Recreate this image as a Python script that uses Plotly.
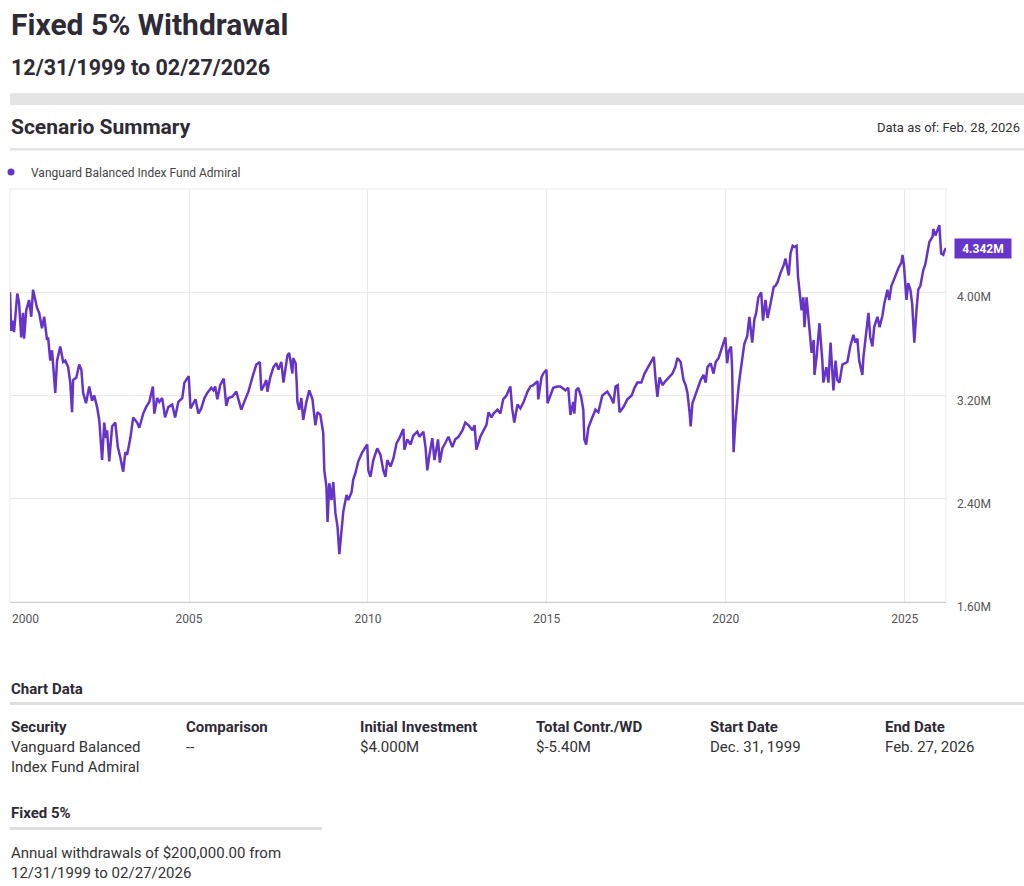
import datetime as dt
import plotly.graph_objects as go

# ---------------- data ----------------
series_name = "Vanguard Balanced Index Fund Admiral"

years = [
    1999.997, 2000.03, 2000.08, 2000.11, 2000.20, 2000.25, 2000.31, 2000.36, 2000.39, 2000.45,
    2000.53, 2000.59, 2000.64, 2000.75, 2000.81, 2000.89, 2000.95, 2001.03, 2001.06, 2001.12,
    2001.17, 2001.26, 2001.31, 2001.40, 2001.48, 2001.54, 2001.62, 2001.68, 2001.73, 2001.76,
    2001.85, 2001.93, 2001.99, 2002.04, 2002.12, 2002.21, 2002.29, 2002.35, 2002.43, 2002.49,
    2002.57, 2002.63, 2002.68, 2002.71, 2002.77, 2002.85, 2002.94, 2003.01, 2003.08, 2003.16,
    2003.22, 2003.27, 2003.36, 2003.44, 2003.55, 2003.61, 2003.72, 2003.80, 2003.89, 2003.99,
    2004.03, 2004.11, 2004.17, 2004.25, 2004.33, 2004.42, 2004.53, 2004.61, 2004.70, 2004.81,
    2004.87, 2004.95, 2004.99, 2005.04, 2005.12, 2005.18, 2005.26, 2005.34, 2005.43, 2005.51,
    2005.62, 2005.68, 2005.73, 2005.79, 2005.87, 2005.97, 2006.04, 2006.10, 2006.21, 2006.32,
    2006.38, 2006.46, 2006.57, 2006.66, 2006.77, 2006.88, 2006.98, 2007.02, 2007.08, 2007.16,
    2007.19, 2007.27, 2007.36, 2007.44, 2007.50, 2007.58, 2007.64, 2007.69, 2007.75, 2007.80,
    2007.89, 2007.91, 2007.98, 2008.01, 2008.03, 2008.08, 2008.14, 2008.19, 2008.28, 2008.36,
    2008.45, 2008.53, 2008.59, 2008.67, 2008.75, 2008.78, 2008.84, 2008.87, 2008.92, 2008.98,
    2009.03, 2009.09, 2009.15, 2009.20, 2009.26, 2009.31, 2009.40, 2009.45, 2009.54, 2009.59,
    2009.65, 2009.73, 2009.84, 2009.90, 2009.98, 2010.01, 2010.07, 2010.15, 2010.26, 2010.35,
    2010.43, 2010.49, 2010.54, 2010.63, 2010.71, 2010.80, 2010.88, 2010.99, 2011.02, 2011.10,
    2011.19, 2011.27, 2011.38, 2011.44, 2011.55, 2011.61, 2011.66, 2011.72, 2011.80, 2011.86,
    2011.96, 2012.01, 2012.08, 2012.16, 2012.25, 2012.36, 2012.44, 2012.53, 2012.64, 2012.72,
    2012.81, 2012.92, 2012.98, 2013.03, 2013.14, 2013.23, 2013.31, 2013.37, 2013.45, 2013.51,
    2013.62, 2013.70, 2013.78, 2013.87, 2013.98, 2014.03, 2014.09, 2014.18, 2014.26, 2014.35,
    2014.46, 2014.54, 2014.62, 2014.74, 2014.76, 2014.85, 2014.90, 2014.99, 2015.02, 2015.10,
    2015.18, 2015.29, 2015.38, 2015.52, 2015.60, 2015.66, 2015.74, 2015.77, 2015.82, 2015.88,
    2015.96, 2016.02, 2016.05, 2016.10, 2016.16, 2016.27, 2016.36, 2016.44, 2016.55, 2016.69,
    2016.78, 2016.86, 2016.92, 2016.98, 2017.03, 2017.14, 2017.25, 2017.37, 2017.45, 2017.53,
    2017.64, 2017.73, 2017.81, 2017.90, 2017.99, 2018.04, 2018.09, 2018.15, 2018.23, 2018.31,
    2018.40, 2018.51, 2018.59, 2018.65, 2018.74, 2018.82, 2018.88, 2018.93, 2018.99, 2019.02,
    2019.07, 2019.13, 2019.21, 2019.30, 2019.38, 2019.44, 2019.49, 2019.58, 2019.66, 2019.72,
    2019.80, 2019.88, 2019.94, 2019.99, 2020.04, 2020.08, 2020.15, 2020.18, 2020.20, 2020.22,
    2020.27, 2020.33, 2020.36, 2020.41, 2020.47, 2020.52, 2020.60, 2020.66, 2020.74, 2020.80,
    2020.85, 2020.91, 2020.99, 2021.04, 2021.11, 2021.17, 2021.25, 2021.34, 2021.39, 2021.45,
    2021.53, 2021.62, 2021.67, 2021.76, 2021.81, 2021.87, 2021.92, 2021.98, 2022.02, 2022.06,
    2022.12, 2022.17, 2022.20, 2022.26, 2022.31, 2022.40, 2022.46, 2022.48, 2022.54, 2022.59,
    2022.62, 2022.70, 2022.73, 2022.81, 2022.87, 2022.93, 2022.97, 2023.01, 2023.07, 2023.12,
    2023.18, 2023.26, 2023.34, 2023.40, 2023.48, 2023.57, 2023.62, 2023.68, 2023.73, 2023.82,
    2023.85, 2023.90, 2023.96, 2023.99, 2024.04, 2024.10, 2024.15, 2024.24, 2024.30, 2024.38,
    2024.43, 2024.52, 2024.57, 2024.63, 2024.69, 2024.77, 2024.83, 2024.91, 2024.94, 2024.98,
    2025.02, 2025.05, 2025.10, 2025.16, 2025.21, 2025.24, 2025.27, 2025.33, 2025.38, 2025.44,
    2025.52, 2025.58, 2025.63, 2025.69, 2025.78, 2025.80, 2025.86, 2025.92, 2025.97, 2026.02,
    2026.08, 2026.11, 2026.156,
]

values_m = [
    4.00, 3.70, 3.78, 3.69, 3.99, 3.92, 3.65, 3.84, 3.64, 3.86,
    3.94, 3.81, 4.02, 3.88, 3.84, 3.72, 3.81, 3.63, 3.65, 3.47,
    3.55, 3.22, 3.47, 3.58, 3.46, 3.47, 3.42, 3.30, 3.07, 3.32,
    3.34, 3.44, 3.40, 3.22, 3.14, 3.27, 3.16, 3.20, 3.11, 3.01,
    2.70, 2.99, 2.87, 2.93, 2.69, 2.96, 2.99, 2.80, 2.72, 2.61,
    2.76, 2.74, 2.87, 3.03, 2.99, 2.95, 3.06, 3.11, 3.15, 3.27,
    3.06, 3.18, 3.15, 3.18, 3.03, 3.11, 3.13, 3.03, 3.15, 3.18,
    3.30, 3.34, 3.35, 3.10, 3.14, 3.17, 3.06, 3.10, 3.18, 3.22,
    3.26, 3.24, 3.27, 3.17, 3.28, 3.33, 3.12, 3.18, 3.19, 3.23,
    3.17, 3.09, 3.17, 3.23, 3.34, 3.44, 3.46, 3.24, 3.27, 3.32,
    3.23, 3.34, 3.42, 3.45, 3.40, 3.46, 3.30, 3.40, 3.51, 3.53,
    3.37, 3.49, 3.45, 3.30, 3.15, 3.09, 3.18, 3.01, 3.15, 3.24,
    3.17, 2.97, 3.07, 3.05, 2.91, 2.62, 2.49, 2.22, 2.52, 2.39,
    2.53, 2.29, 2.18, 1.97, 2.18, 2.30, 2.43, 2.39, 2.45, 2.55,
    2.60, 2.69, 2.76, 2.79, 2.82, 2.62, 2.57, 2.70, 2.79, 2.74,
    2.62, 2.57, 2.70, 2.65, 2.71, 2.83, 2.87, 2.94, 2.78, 2.86,
    2.82, 2.89, 2.92, 2.88, 2.92, 2.80, 2.62, 2.74, 2.87, 2.70,
    2.86, 2.68, 2.79, 2.83, 2.88, 2.80, 2.86, 2.88, 2.93, 2.99,
    2.97, 2.93, 2.97, 2.78, 2.88, 2.93, 2.97, 3.07, 3.03, 3.06,
    3.09, 3.06, 3.17, 3.20, 3.27, 3.10, 2.99, 3.13, 3.10, 3.15,
    3.23, 3.27, 3.28, 3.31, 3.17, 3.34, 3.37, 3.40, 3.14, 3.20,
    3.26, 3.27, 3.27, 3.24, 3.26, 3.05, 3.15, 3.06, 3.24, 3.26,
    3.19, 3.09, 2.86, 2.82, 2.95, 3.03, 3.09, 3.07, 3.20, 3.23,
    3.19, 3.14, 3.27, 3.28, 3.07, 3.11, 3.17, 3.20, 3.26, 3.30,
    3.30, 3.37, 3.41, 3.45, 3.50, 3.32, 3.19, 3.34, 3.28, 3.31,
    3.34, 3.37, 3.42, 3.49, 3.46, 3.32, 3.28, 3.22, 3.07, 2.96,
    3.14, 3.19, 3.24, 3.32, 3.36, 3.30, 3.42, 3.45, 3.37, 3.46,
    3.49, 3.57, 3.61, 3.65, 3.45, 3.54, 3.58, 3.40, 3.03, 2.76,
    2.99, 3.19, 3.27, 3.38, 3.50, 3.60, 3.66, 3.81, 3.61, 3.79,
    3.84, 3.96, 4.00, 3.78, 3.94, 3.80, 3.91, 4.04, 4.05, 4.08,
    4.15, 4.21, 4.26, 4.13, 4.30, 4.36, 4.35, 4.36, 4.12, 4.02,
    3.86, 3.96, 3.73, 3.96, 3.78, 3.53, 3.63, 3.36, 3.50, 3.68,
    3.76, 3.47, 3.30, 3.42, 3.30, 3.61, 3.42, 3.24, 3.47, 3.32,
    3.30, 3.44, 3.45, 3.46, 3.58, 3.67, 3.61, 3.64, 3.47, 3.36,
    3.50, 3.61, 3.78, 3.84, 3.65, 3.58, 3.73, 3.81, 3.73, 3.82,
    3.91, 4.02, 3.94, 4.05, 4.09, 4.15, 4.19, 4.23, 4.29, 4.21,
    4.07, 3.94, 4.07, 4.02, 3.91, 3.78, 3.61, 3.86, 4.02, 4.05,
    4.17, 4.22, 4.30, 4.39, 4.43, 4.49, 4.44, 4.48, 4.52, 4.30,
    4.29, 4.32, 4.342,
]

y_tick_vals = [1.6, 2.4, 3.2, 4.0]
y_tick_text = ["1.60M", "2.40M", "3.20M", "4.00M"]
x_tick_years = [2000, 2005, 2010, 2015, 2020, 2025]
x_tick_text = ["2000", "2005", "2010", "2015", "2020", "2025"]

table_headers = ["Security", "Comparison", "Initial Investment", "Total Contr./WD", "Start Date", "End Date"]
table_values = ["Vanguard Balanced<br>Index Fund Admiral", "--", "$4.000M", "$-5.40M",
                "Dec. 31, 1999", "Feb. 27, 2026"]

# ---------------- helpers ----------------
def to_date(t):
    y = int(t)
    start = dt.datetime(y, 1, 1)
    n = (dt.datetime(y + 1, 1, 1) - start).days
    return start + dt.timedelta(days=(t - y) * n)

dates = [to_date(t) for t in years]
tick_dates = [dt.datetime(y, 1, 1) for y in x_tick_years]

PURPLE = "#6634c8"
DARK = "#2e2b36"
FONT = "Roboto"
W, H = 1024, 886
PL, PR, PT, PB = 10, 946, 189, 602

def fx(x):
    return (x - PL) / (PR - PL)

def fy(y):
    return (PB - y) / (PB - PT)

fig = go.Figure()
fig.add_trace(go.Scatter(x=dates, y=values_m, mode="lines", name=series_name,
                         line=dict(color=PURPLE, width=2.5), showlegend=False,
                         hovertemplate="%{x|%b %d, %Y}: %{y:.3f}M<extra></extra>"))
fig.add_trace(go.Scatter(x=[None], y=[None], mode="markers", name=series_name,
                         marker=dict(color=PURPLE, size=7), showlegend=True))

annotations = []

def txt(x, y, s, size, color=DARK, bold=False, xanchor="left", yanchor="middle"):
    annotations.append(dict(
        xref="paper", yref="paper", x=fx(x), y=fy(y), text=f"<b>{s}</b>" if bold else s,
        showarrow=False, xanchor=xanchor, yanchor=yanchor, align="left",
        font=dict(family=FONT, size=size, color=color)))

txt(9, 24, "Fixed 5% Withdrawal", 30, bold=True)
txt(9, 67, "12/31/1999 to 02/27/2026", 21.5, bold=True)
txt(9, 127, "Scenario Summary", 21, bold=True)
txt(1022, 127, "Data as of: Feb. 28, 2026", 13, color="#333", xanchor="right")

txt(9, 689, "Chart Data", 15, bold=True)
col_x = [9, 184, 358, 534, 708, 883]
for cx, h, v in zip(col_x, table_headers, table_values):
    txt(cx, 727, h, 15, bold=True)
    txt(cx, 736, v, 15, color="#333", yanchor="top")
txt(9, 813, "Fixed 5%", 15, bold=True)
txt(9, 842, "Annual withdrawals of $200,000.00 from<br>12/31/1999 to 02/27/2026", 15,
    color="#333", yanchor="top")

# first year label sits flush with the left edge of the plot (as in the reference)
annotations.append(dict(
    x=tick_dates[0], y=fy(619), xref="x", yref="paper", text=x_tick_text[0],
    showarrow=False, xanchor="left", yanchor="middle",
    font=dict(family=FONT, size=12, color="#555")))

# last value label
annotations.append(dict(
    x=dates[-1], y=values_m[-1], xref="x", yref="y", text=f"<b>{values_m[-1]:.3f}M</b>",
    showarrow=False, xanchor="left", yanchor="middle", xshift=8, bgcolor=PURPLE,
    font=dict(family=FONT, size=12, color="white"), width=52, height=15, borderpad=2))

shapes = [
    # top grey band
    dict(type="rect", xref="paper", yref="paper", x0=fx(10), x1=fx(1024), y0=fy(93), y1=fy(105),
         fillcolor="#e4e4e4", line=dict(width=0), layer="below"),
    # separator under section title
    dict(type="rect", xref="paper", yref="paper", x0=fx(10), x1=fx(1024), y0=fy(148), y1=fy(150.5),
         fillcolor="#e3e3e3", line=dict(width=0), layer="below"),
    # chart data separator
    dict(type="rect", xref="paper", yref="paper", x0=fx(10), x1=fx(1024), y0=fy(702), y1=fy(705),
         fillcolor="#dedede", line=dict(width=0), layer="below"),
    # fixed 5% separator
    dict(type="rect", xref="paper", yref="paper", x0=fx(10), x1=fx(322), y0=fy(827), y1=fy(830),
         fillcolor="#dedede", line=dict(width=0), layer="below"),
    # plot frame
    dict(type="rect", xref="paper", yref="paper", x0=0, x1=1, y0=0, y1=1,
         line=dict(color="#ebebeb", width=1), layer="below"),
    # arrow of the last value label
    dict(type="path", xref="x", yref="y", xsizemode="pixel", ysizemode="pixel",
         xanchor=dates[-1], yanchor=values_m[-1], path="M 1,0 L 8,9.5 L 8,-9.5 Z",
         fillcolor=PURPLE, line=dict(width=0)),
]

fig.update_layout(
    width=W, height=H, autosize=False,
    margin=dict(l=PL, r=W - PR, t=PT, b=H - PB, pad=0, autoexpand=False),
    paper_bgcolor="white", plot_bgcolor="white",
    font=dict(family=FONT, color="#555"),
    showlegend=True,
    legend=dict(x=fx(-9), y=fy(172), xanchor="left", yanchor="middle", orientation="h",
                font=dict(family=FONT, size=12, color="#444"), bgcolor="rgba(0,0,0,0)",
                itemwidth=30),
    annotations=annotations,
    shapes=shapes,
    xaxis=dict(
        type="date", range=[to_date(1999.997), to_date(2026.156)], automargin=False,
        tickvals=tick_dates, ticktext=[""] + x_tick_text[1:],
        showgrid=True, gridcolor="#e9e9e9", gridwidth=1, zeroline=False,
        showline=True, linecolor="#cccccc", linewidth=1, ticks="",
        tickfont=dict(family=FONT, size=12, color="#555"), ticklabelstandoff=6,
        fixedrange=True),
    yaxis=dict(
        side="right", range=[1.6, 4.8], tickvals=y_tick_vals, ticktext=y_tick_text,
        automargin=False, ticklabeloverflow="allow",
        showgrid=True, gridcolor="#e9e9e9", gridwidth=1, zeroline=False, showline=False,
        ticks="", tickfont=dict(family=FONT, size=12, color="#555"),
        ticklabelstandoff=10, ticklabelshift=5, fixedrange=True),
)

fig.write_html("out.html", config={"displayModeBar": False},
               post_script="document.body.style.margin='0';")
